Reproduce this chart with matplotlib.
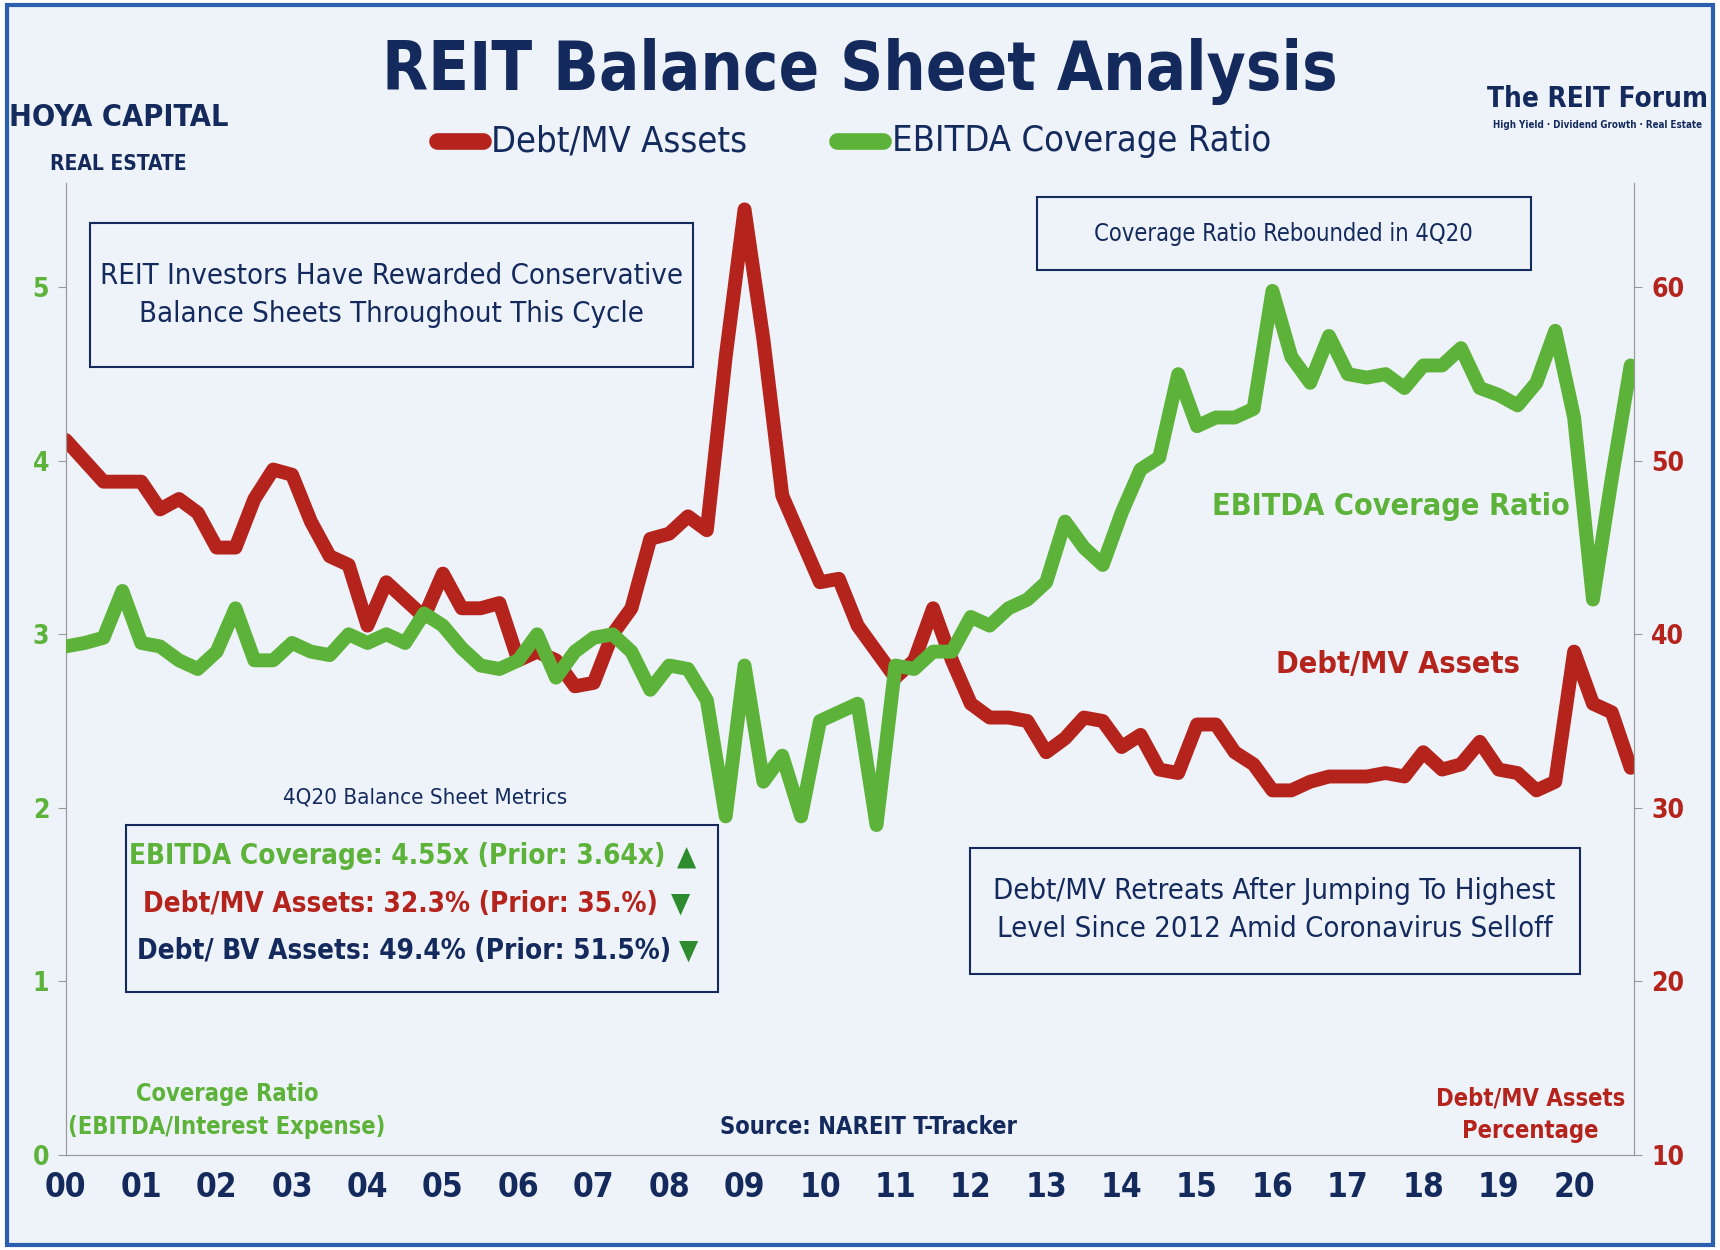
import matplotlib
matplotlib.use("Agg")
import matplotlib.pyplot as plt
import numpy as np

plt.rcParams['font.family'] = ['DejaVu Sans']
plt.rcParams['font.stretch'] = 'condensed'

years = np.arange(84) / 4.0 + 2000
debt_mv = [51.2,50.0,48.8,48.8,48.8,47.2,47.8,47.0,45.0,45.0,47.8,49.5,49.2,46.5,44.5,44.0,
           40.5,43.0,42.0,41.0,43.5,41.5,41.5,41.8,38.5,39.0,38.5,37.0,37.2,40.0,41.5,45.5,
           45.8,46.8,46.0,56.0,64.5,57.0,48.0,45.5,43.0,43.2,40.5,39.0,37.5,38.5,41.5,38.5,
           36.0,35.2,35.2,35.0,33.2,34.0,35.2,35.0,33.5,34.2,32.2,32.0,34.8,34.8,33.2,32.5,
           31.0,31.0,31.5,31.8,31.8,31.8,32.0,31.8,33.2,32.2,32.5,33.8,32.2,32.0,31.0,31.5,
           39.0,36.0,35.5,32.3]
coverage = [2.93,2.95,2.98,3.25,2.95,2.93,2.85,2.80,2.90,3.15,2.85,2.85,2.95,2.90,2.88,3.00,
            2.95,3.00,2.95,3.12,3.05,2.92,2.82,2.80,2.85,3.00,2.75,2.90,2.98,3.00,2.90,2.68,
            2.82,2.80,2.62,1.95,2.82,2.15,2.30,1.95,2.50,2.55,2.60,1.90,2.82,2.80,2.90,2.90,
            3.10,3.05,3.15,3.20,3.30,3.65,3.50,3.40,3.70,3.95,4.02,4.50,4.20,4.25,4.25,4.30,
            4.98,4.60,4.45,4.72,4.50,4.48,4.50,4.42,4.55,4.55,4.65,4.42,4.38,4.32,4.45,4.75,
            4.25,3.20,3.90,4.55]
xtick_labels = ["00","01","02","03","04","05","06","07","08","09","10",
                "11","12","13","14","15","16","17","18","19","20"]

NAVY = "#142a5c"
RED = "#b5241c"
GREEN = "#5db33a"
DKGREEN = "#2e8b2e"
BG = "#eef3f9"
W, H = 1568.0, 1140.0

fig = plt.figure(figsize=(17.2, 12.5), dpi=100, facecolor="white")
fig.patches.append(plt.Rectangle((0.004, 0.004), 0.992, 0.992, transform=fig.transFigure,
                                 facecolor=BG, edgecolor="#2b5fb0", lw=3, zorder=-10))
ax = fig.add_axes([60 / W, 1 - 1053 / H, 1430 / W, 0.777])
ax.set_facecolor("none")
ax2 = ax.twinx()

ax.plot(years, coverage, color=GREEN, lw=10, solid_joinstyle="round", solid_capstyle="round", zorder=3)
ax2.plot(years, debt_mv, color=RED, lw=10, solid_joinstyle="round", solid_capstyle="round", zorder=2)
ax.set_zorder(ax2.get_zorder() + 1)

ax.set_xlim(2000, 2020.8)
ax.set_ylim(0, 5.6)
ax2.set_ylim(10, 66)
ax.set_xticks(np.arange(2000, 2021))
ax.set_xticklabels(xtick_labels, fontsize=24, fontweight="bold", color=NAVY)
ax.set_yticks([0, 1, 2, 3, 4, 5])
ax.set_yticklabels(["0", "1", "2", "3", "4", "5"], fontsize=19, fontweight="bold", color=GREEN)
ax2.set_yticks([10, 20, 30, 40, 50, 60])
ax2.set_yticklabels(["10", "20", "30", "40", "50", "60"], fontsize=19, fontweight="bold", color=RED)
for a in (ax, ax2):
    a.spines["top"].set_visible(False)
    for s in ("left", "right", "bottom"):
        a.spines[s].set_color("#999")
ax.tick_params(axis="y", length=6, color="#999", pad=6)
ax2.tick_params(axis="y", length=6, color="#999", pad=6)
ax.tick_params(axis="x", length=0, pad=12)

fig.text(0.5, 0.943, "REIT Balance Sheet Analysis", ha="center", va="center",
         fontsize=48, fontweight="bold", color=NAVY)
fig.lines.append(plt.Line2D([398 / W, 440 / W], [0.887, 0.887], transform=fig.transFigure, color=RED, lw=12, solid_capstyle="round"))
fig.text(448 / W, 0.887, "Debt/MV Assets", ha="left", va="center", fontsize=26, color=NAVY)
fig.lines.append(plt.Line2D([763 / W, 805 / W], [0.887, 0.887], transform=fig.transFigure, color=GREEN, lw=12, solid_capstyle="round"))
fig.text(813 / W, 0.887, "EBITDA Coverage Ratio", ha="left", va="center", fontsize=26, color=NAVY)

fig.text(108 / W, 1 - 107 / H, "HOYA CAPITAL", ha="center", va="center", fontsize=22, fontweight="bold", color=NAVY)
fig.text(108 / W, 1 - 150 / H, "REAL ESTATE", ha="center", va="center", fontsize=15, fontweight="bold", color=NAVY)
fig.text(1456 / W, 1 - 90 / H, "The REIT Forum", ha="center", va="center", fontsize=20, fontweight="bold", color=NAVY)
fig.text(1456 / W, 1 - 114 / H, "High Yield · Dividend Growth · Real Estate", ha="center", va="center", fontsize=7, fontweight="bold", color=NAVY)

def rbox(x0, y0, x1, y1):
    fig.patches.append(plt.Rectangle((x0 / W, 1 - y1 / H), (x1 - x0) / W, (y1 - y0) / H,
                       transform=fig.transFigure, facecolor="none", edgecolor=NAVY, lw=1.5, zorder=5))

def ftext(x, y, s, **kw):
    fig.text(x / W, 1 - y / H, s, ha="center", va="center", **kw)

rbox(82, 203, 632, 335)
ftext(357, 269, "REIT Investors Have Rewarded Conservative\nBalance Sheets Throughout This Cycle",
      fontsize=21, color=NAVY, linespacing=1.45)
rbox(945, 180, 1396, 246)
ftext(1170, 213, "Coverage Ratio Rebounded in 4Q20", fontsize=17, color=NAVY)
rbox(884, 773, 1440, 888)
ftext(1162, 830, "Debt/MV Retreats After Jumping To Highest\nLevel Since 2012 Amid Coronavirus Selloff",
      fontsize=21, color=NAVY, linespacing=1.45)
ftext(388, 727, "4Q20 Balance Sheet Metrics", fontsize=16, color=NAVY)
rbox(115, 752, 655, 905)
ftext(362, 781, "EBITDA Coverage: 4.55x (Prior: 3.64x)", fontsize=20, fontweight="bold", color=GREEN)
ftext(365, 824, "Debt/MV Assets: 32.3% (Prior: 35.%)", fontsize=20, fontweight="bold", color=RED)
ftext(368, 867, "Debt/ BV Assets: 49.4% (Prior: 51.5%)", fontsize=20, fontweight="bold", color=NAVY)
ftext(626, 781, "\u25b2", fontsize=20, color=DKGREEN)
ftext(620, 824, "\u25bc", fontsize=20, color=DKGREEN)
ftext(628, 867, "\u25bc", fontsize=20, color=DKGREEN)

ftext(1268, 462, "EBITDA Coverage Ratio", fontsize=22, fontweight="bold", color=GREEN)
ftext(1274, 606, "Debt/MV Assets", fontsize=22, fontweight="bold", color=RED)
ftext(207, 1013, "Coverage Ratio\n(EBITDA/Interest Expense)", fontsize=17, fontweight="bold", color=GREEN, linespacing=1.45)
ftext(1395, 1017, "Debt/MV Assets\nPercentage", fontsize=17, fontweight="bold", color=RED, linespacing=1.45)
ftext(792, 1028, "Source: NAREIT T-Tracker", fontsize=17, fontweight="bold", color=NAVY)

fig.savefig("out.png", dpi=100, facecolor="white")
